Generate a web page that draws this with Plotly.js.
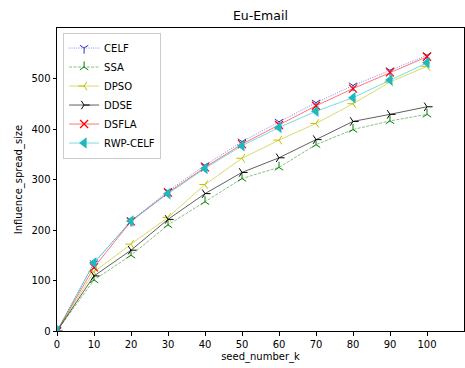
<!DOCTYPE html>
<html><head><meta charset="utf-8">
<script src="https://cdn.plot.ly/plotly-3.0.1.min.js"></script>
<style>html,body{margin:0;padding:0;background:#fff}#chart{width:465px;height:368px}</style>
</head><body><div id="chart"></div>
<script>
const seeds = [0,10,20,30,40,50,60,70,80,90,100];
const CELF = [0,134,218,277,328,375,414,452,486,516,546];
const SSA = [0,101,150,210,256,302,324,369,399,416,429];
const DPSO = [0,117,172,225,290,342,378,411,450,493,524];
const DDSE = [0,109,160,221,272,314,343,379,415,429,444];
const DSFLA = [0,126,217,274,324,370,408,446,480,512,543];
const RWP_CELF = [0,135,218,272,322,367,403,435,462,497,531];

const mk = (name, y, lineColor, dash, markerColor, symbol, size, lw) => ({
  x: seeds, y: y, name: name, type: 'scatter', mode: 'lines+markers',
  line: {color: lineColor, width: 0.9, dash: dash},
  marker: {symbol: symbol, size: size, color: markerColor, line: {color: markerColor, width: lw}}
});
const data = [
  mk('CELF', CELF, 'rgba(0,0,255,0.55)', '1px,1.4px', '#3030c0', 'y-down-open', 7, 1),
  mk('SSA', SSA, 'rgba(0,128,0,0.55)', '3px,1.4px', '#008000', 'y-up-open', 7, 1),
  mk('DPSO', DPSO, 'rgba(191,191,0,0.65)', 'solid', '#bfbf00', 'y-left-open', 7, 1),
  mk('DDSE', DDSE, 'rgba(0,0,0,0.7)', 'solid', '#000000', 'y-right-open', 7, 1),
  mk('DSFLA', DSFLA, 'rgba(255,0,0,0.6)', 'solid', '#ff0000', 'x-thin-open', 8, 1.2),
  mk('RWP-CELF', RWP_CELF, 'rgba(0,191,191,0.6)', 'solid', '#20b8c0', 'triangle-left', 10, 0)
];
const axisFont = {family: 'DejaVu Sans', size: 10, color: '#000'};
const layout = {
  width: 465, height: 368,
  margin: {l: 57, r: 1, t: 28, b: 37},
  paper_bgcolor: '#fff', plot_bgcolor: '#fff',
  title: {text: 'Eu-Email', font: {family: 'DejaVu Sans', size: 12.5, color: '#000'}, x: 0.56, xanchor: 'center', y: 0.958, yanchor: 'middle'},
  xaxis: {range: [0, 110], tickvals: [0,10,20,30,40,50,60,70,80,90,100], ticks: 'outside', ticklen: 3.5, tickcolor: '#000',
    showline: true, linecolor: '#000', linewidth: 1, mirror: true, showgrid: false, zeroline: false,
    tickfont: axisFont, title: {text: 'seed_number_k', font: axisFont, standoff: 4}},
  yaxis: {range: [0, 600], tickvals: [0,100,200,300,400,500], ticks: 'outside', ticklen: 3.5, tickcolor: '#000',
    showline: true, linecolor: '#000', linewidth: 1, mirror: true, showgrid: false, zeroline: false,
    tickfont: axisFont, title: {text: 'Influence_spread_size', font: axisFont, standoff: 6}},
  legend: {x: 0.015, y: 0.985, xanchor: 'left', yanchor: 'top', bgcolor: 'rgba(255,255,255,0.8)', bordercolor: '#ccc', borderwidth: 1,
    font: {family: 'DejaVu Sans', size: 10, color: '#000'}, tracegroupgap: 0, itemwidth: 30},
  showlegend: true
};
Plotly.newPlot('chart', data, layout, {displayModeBar: false, staticPlot: true});
</script></body></html>
